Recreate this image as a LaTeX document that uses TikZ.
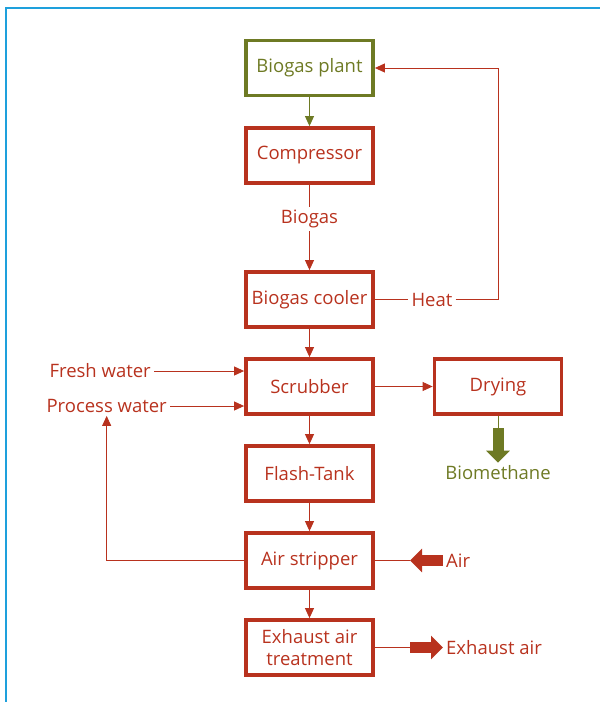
\documentclass[tikz,border=0pt]{standalone}
\usepackage{fontspec}
\setmainfont{Open Sans}
\definecolor{bgred}{HTML}{B8321E}
\definecolor{bggreen}{HTML}{6E7A24}
\definecolor{bgblue}{RGB}{30,160,220}
\usetikzlibrary{arrows.meta,positioning}

\begin{document}
\begin{tikzpicture}[
  x=1pt, y=-1pt,
  font=\fontsize{18.5}{22}\selectfont,
  stage/.style={draw=#1, line width=3.8pt, text=#1, minimum width=127pt,
    minimum height=55pt, align=center},
  lbl/.style={text=#1, inner sep=3pt},
  arr/.style={-{Triangle[length=10pt,width=9pt]}, line width=0.9pt, draw=#1},
  link/.style={line width=0.9pt, draw=#1},
  fat/.style={-{Triangle[length=12pt,width=23pt]}, line width=11pt, draw=#1}
]
  \useasboundingbox (0,0) rectangle (600,702);
  \draw[draw=bgblue, line width=2pt] (5.5,702) -- (5.5,7.5) -- (600,7.5);

  % Process chain
  \node[stage=bggreen] (plant) at (309.5,68) {Biogas plant};
  \node[stage=bgred] (comp) at (309.5,155.5) {Compressor};
  \node[stage=bgred] (cool) at (309.5,299.5) {Biogas cooler};
  \node[stage=bgred] (scrub) at (309.5,386.5) {Scrubber};
  \node[stage=bgred] (dry) at (498,386.5) {Drying};
  \node[stage=bgred] (flash) at (309.5,473.5) {Flash-Tank};
  \node[stage=bgred] (strip) at (309.5,560.5) {Air stripper};
  \node[stage=bgred] (exh) at (309.5,647.5) {Exhaust air\\treatment};

  % Stream labels
  \node[lbl=bgred] (gas) at (309.5,219) {Biogas};
  \node[lbl=bgred] (heat) at (432,299.5) {Heat};
  \node[lbl=bgred, anchor=east] (fresh) at (154,371) {Fresh water};
  \node[lbl=bgred, anchor=east] (procw) at (170,406) {Process water};
  \node[lbl=bggreen] (biometh) at (498,473) {Biomethane};
  \node[lbl=bgred, anchor=west] (air) at (443,560.5) {Air};
  \node[lbl=bgred, anchor=west] (exhair) at (443,647.5) {Exhaust air};

  \coordinate (loop) at (498,68);
  \coordinate (bmtail) at (498,428);
  \coordinate (airtip) at (410,560.5);
  \coordinate (exhtail) at (410,647.5);

  % Arrows
  \draw[arr=bggreen] (plant) -- (comp);
  \draw[link=bgred] (comp) -- (gas);
  \draw[arr=bgred] (gas) -- (cool);
  \draw[arr=bgred] (cool) -- (scrub);
  \draw[arr=bgred] (scrub) -- (flash);
  \draw[arr=bgred] (flash) -- (strip);
  \draw[arr=bgred] (strip) -- (exh);
  \draw[arr=bgred] (scrub) -- (dry);

  % Heat return
  \draw[link=bgred] (cool) -- (heat);
  \draw[arr=bgred] (heat) -| (loop) -- (plant);

  % Water in and recycle
  \draw[arr=bgred] (fresh) -- (fresh -| scrub.west);
  \draw[arr=bgred] (procw) -- (procw -| scrub.west);
  \draw[arr=bgred] (strip) -| (procw);

  % Block arrows
  \draw[link=bggreen] (dry) -- (bmtail);
  \draw[fat=bggreen] (bmtail) -- (biometh);
  \draw[fat=bgred] (air) -- (airtip);
  \draw[link=bgred] (airtip) -- (strip);
  \draw[link=bgred] (exh) -- (exhtail);
  \draw[fat=bgred] (exhtail) -- (exhair);
\end{tikzpicture}
\end{document}
